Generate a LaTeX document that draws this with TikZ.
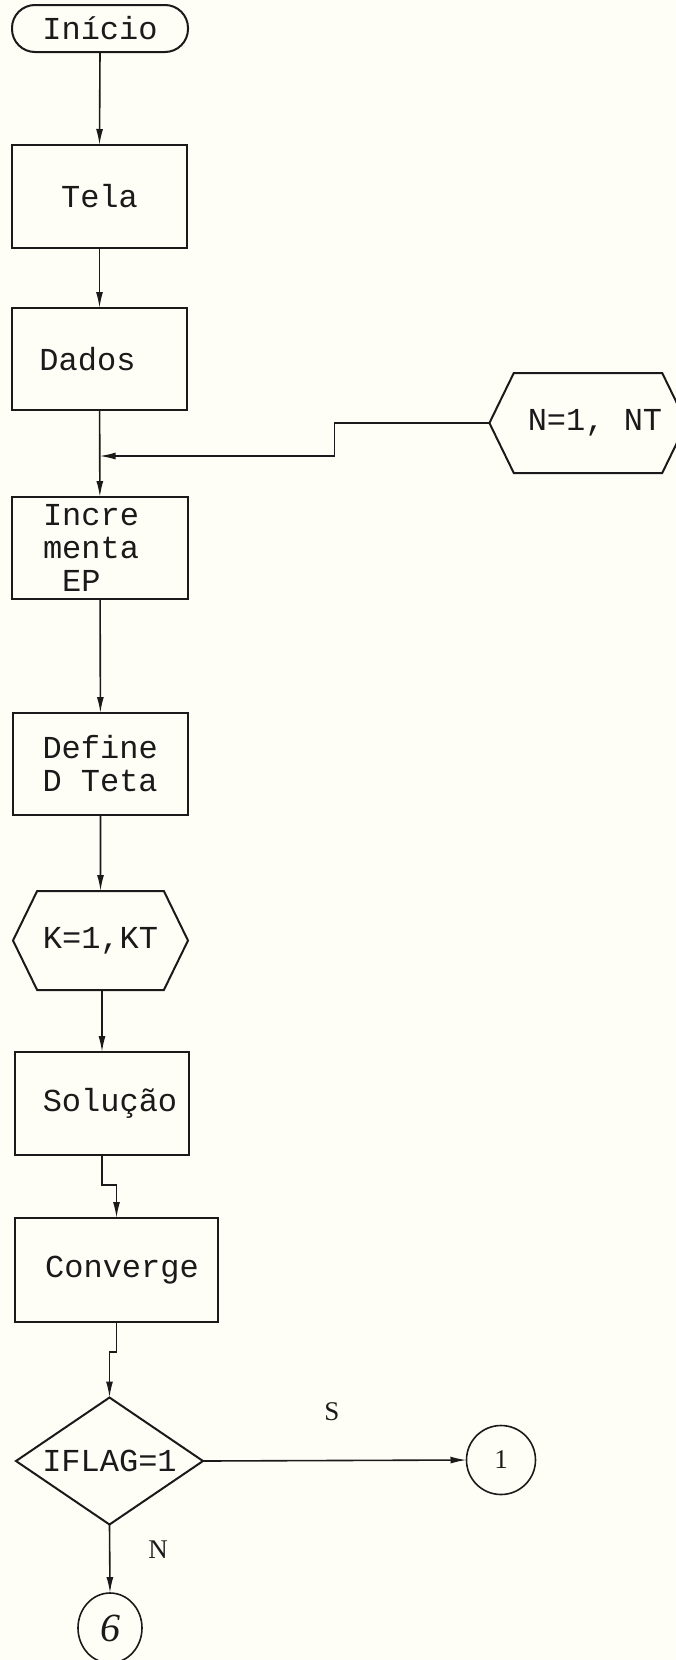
\documentclass[tikz,border=0pt]{standalone}
\usepackage{fontspec}
\setmonofont{Liberation Mono}
\newfontfamily\labfont{Liberation Serif}
\usetikzlibrary{arrows.meta,shapes.geometric,shapes.symbols,shapes.misc,calc}
\definecolor{ink}{HTML}{1A1A1A}
\definecolor{bgc}{HTML}{FFFEF6}
\begin{document}
\begin{tikzpicture}[x=1pt,y=-1pt,
  every node/.style={inner sep=0pt, outer sep=0pt, text=ink},
  ln/.style={draw=ink, line width=2pt},
  txt/.style={font=\ttfamily\fontsize{32}{33}\selectfont},
  boxst/.style={ln, rectangle, txt},
  hexst/.style={ln, signal, signal to=west and east, signal pointer angle=128, txt},
  conn/.style={draw=ink, line width=1.6pt},
  arr/.style={conn, -{Latex[length=16pt,width=7pt]}},
  lab/.style={font=\labfont\fontsize{27}{27}\selectfont}
]
\fill[bgc] (0,0) rectangle (676,1660);
\useasboundingbox (0,0) rectangle (676,1660);

\node[boxst, rounded corners=23pt, minimum width=176pt, minimum height=47pt] (ini) at (100,28.5) {Início};
\node[boxst, minimum width=175pt, minimum height=103pt] (tela) at (99.5,196.5) {Tela};
\node[boxst, minimum width=175pt, minimum height=102pt] (dados) at (99.5,359) {Dados\hspace*{24pt}};
\node[hexst, minimum width=176pt, minimum height=100pt] (nhex) at (588,423) {\hspace*{14pt}N=1,\hspace{19.2pt}NT};
\node[boxst, minimum width=176pt, minimum height=102pt, text width=114pt, align=left] (inc) at (100,548) {Incre\\menta\\\hspace*{19.2pt}EP};
\node[boxst, minimum width=175pt, minimum height=102pt, text width=116pt, align=left] (def) at (100.5,764) {Define\\D\hspace{19.2pt}Teta};
\node[hexst, minimum width=175pt, minimum height=99pt] (khex) at (100.5,940.5) {K=1,KT};
\node[boxst, minimum width=174pt, minimum height=103pt] (sol) at (102,1103.5) {\hspace*{16pt}Solução};
\node[boxst, minimum width=203pt, minimum height=104pt] (conv) at (116.5,1270) {\hspace*{11pt}Converge};
\node[ln, diamond, aspect=1.47, minimum width=187pt, minimum height=127pt, txt] (dia) at (109.5,1461) {IFLAG=1};
\node[draw=ink, line width=1.6pt, circle, minimum size=69pt, lab] (c1) at (501,1460) {1};
\node[draw=ink, line width=1.6pt, ellipse, minimum width=64pt, minimum height=70pt, font=\labfont\itshape\fontsize{40}{40}\selectfont] (c6) at (110,1628) {6};
\node[lab] (s) at (332,1412) {S};
\node[lab] (n) at (158,1550) {N};

\path (dados.south) ++(0,46) coordinate (join);
\draw[arr] (ini.south) -- (tela.north);
\draw[arr] (tela) -- (dados);
\draw[arr] (dados) -- (inc);
\draw[arr] (nhex.west) -- ++(-155,0) |- (join);
\draw[arr] (inc) -- (def);
\draw[arr] (def) -- (khex);
\draw[arr] (khex.south -| sol.north) -- (sol.north);
\draw[arr] (sol.south) -- ++(0,30) -| (conv.north);
\draw[arr] (conv.south) -- ++(0,30) -| (dia.north);
\draw[arr] (dia.east) -- (c1.west);
\draw[arr] (dia.south) -- (c6.north);
\end{tikzpicture}
\end{document}
